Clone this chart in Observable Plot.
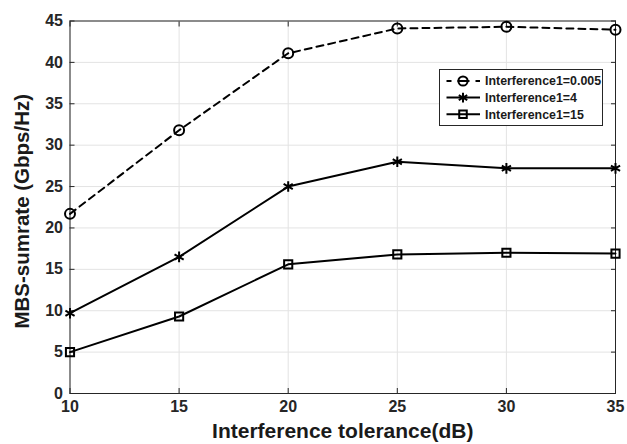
<!DOCTYPE html>
<html><head><meta charset="utf-8">
<script src="https://cdn.jsdelivr.net/npm/d3@7"></script>
<script src="https://cdn.jsdelivr.net/npm/@observablehq/plot@0.6"></script>
<style>
body{margin:0;background:#fff;}
#wrap{position:relative;width:627px;height:444px;font-family:"Liberation Sans",Arial,sans-serif;font-weight:bold;}
#legend{position:absolute;left:439px;top:69px;}
</style></head><body><div id="wrap"></div>
<script>
const xValues = [10, 15, 20, 25, 30, 35];
const seriesNames = ["Interference1=0.005", "Interference1=4", "Interference1=15"];
const seriesA = [21.7, 31.8, 41.1, 44.1, 44.3, 43.95];
const seriesB = [9.7, 16.5, 25.0, 28.0, 27.2, 27.2];
const seriesC = [5.0, 9.3, 15.6, 16.8, 17.0, 16.9];
const xTicks = [10, 15, 20, 25, 30, 35];
const yTicks = [0, 5, 10, 15, 20, 25, 30, 35, 40, 45];
const xLabel = "Interference tolerance(dB)";
const yLabel = "MBS-sumrate (Gbps/Hz)";

const symbols = ["circle", "asterisk", "square"];
const dashes = ["7,5", null, null];
const radii = [5, 5, 4.6];
const seriesValues = [seriesA, seriesB, seriesC];

const data = [];
seriesValues.forEach((vals, i) => vals.forEach((v, j) => data.push({series: seriesNames[i], idx: i, x: xValues[j], y: v})));

const ink = "#262626";
const marks = [
  Plot.gridX(xTicks, {stroke: "#e3e3e3", strokeOpacity: 1, strokeWidth: 1}),
  Plot.gridY(yTicks, {stroke: "#e3e3e3", strokeOpacity: 1, strokeWidth: 1}),
  Plot.frame({stroke: ink, strokeWidth: 1}),
  Plot.axisX(xTicks, {anchor: "bottom", tickSize: -5, tickPadding: 12, fontSize: 16, fontWeight: "bold", label: null, stroke: ink, fill: ink, tickFormat: d => String(d)}),
  Plot.axisX(xTicks, {anchor: "top", tickSize: -5, label: null, stroke: ink, fill: "none"}),
  Plot.axisY(yTicks, {anchor: "left", tickSize: -5, tickPadding: 12, fontSize: 16, fontWeight: "bold", label: null, stroke: ink, fill: ink, tickFormat: d => String(d)}),
  Plot.axisY(yTicks, {anchor: "right", tickSize: -5, label: null, stroke: ink, fill: "none"}),
];
seriesValues.forEach((vals, i) => {
  const d = data.filter(r => r.idx === i);
  marks.push(Plot.line(d, {x: "x", y: "y", stroke: "black", strokeWidth: 2, strokeDasharray: dashes[i] ?? undefined}));
  marks.push(Plot.dot(d, {x: "x", y: "y", symbol: () => symbols[i], r: radii[i], stroke: "black", strokeWidth: 2, fill: "none"}));
});
marks.push(Plot.text([xLabel], {frameAnchor: "bottom", dy: 38, fontSize: 21, fontWeight: "bold", fill: "#1a1a1a", textAnchor: "middle", lineAnchor: "middle"}));
marks.push(Plot.text([yLabel], {frameAnchor: "left", dx: -48, dy: 4, rotate: -90, fontSize: 20.5, fontWeight: "bold", fill: "#1a1a1a", textAnchor: "middle", lineAnchor: "middle"}));

const chart = Plot.plot({
  width: 627, height: 444,
  marginLeft: 69.5, marginRight: 12, marginTop: 20.5, marginBottom: 51,
  x: {domain: [10, 35]},
  y: {domain: [0, 45]},
  symbol: {type: "identity"},
  style: {fontFamily: "'Liberation Sans', Arial, sans-serif", background: "white", color: ink},
  marks
});
document.getElementById("wrap").appendChild(chart);

// legend
const lg = d3.select("#wrap").append("svg").attr("id", "legend").attr("width", 165).attr("height", 58);
lg.append("rect").attr("x", 0.5).attr("y", 0.5).attr("width", 163).attr("height", 56).attr("fill", "white").attr("stroke", ink).attr("stroke-width", 1);
seriesNames.forEach((name, i) => {
  const cy = 12 + i * 16.6;
  lg.append("line").attr("x1", 7.5).attr("x2", 41).attr("y1", cy).attr("y2", cy)
    .attr("stroke", "black").attr("stroke-width", 2).attr("stroke-dasharray", i === 0 ? "5,6,12,6,5" : null);
  lg.append("path").attr("d", d3.symbol(i === 0 ? d3.symbolCircle : i === 1 ? d3.symbolAsterisk : d3.symbolSquare, Math.PI * radii[i] * radii[i] * 0.85)())
    .attr("transform", `translate(24,${cy})`).attr("fill", "none").attr("stroke", "black").attr("stroke-width", 2);
  lg.append("text").attr("x", 46).attr("y", cy).attr("dy", "0.36em").attr("font-size", 12.4).attr("font-weight", "bold")
    .attr("fill", "#1a1a1a").attr("font-family", "'Liberation Sans', Arial, sans-serif").text(name);
});
</script></body></html>
